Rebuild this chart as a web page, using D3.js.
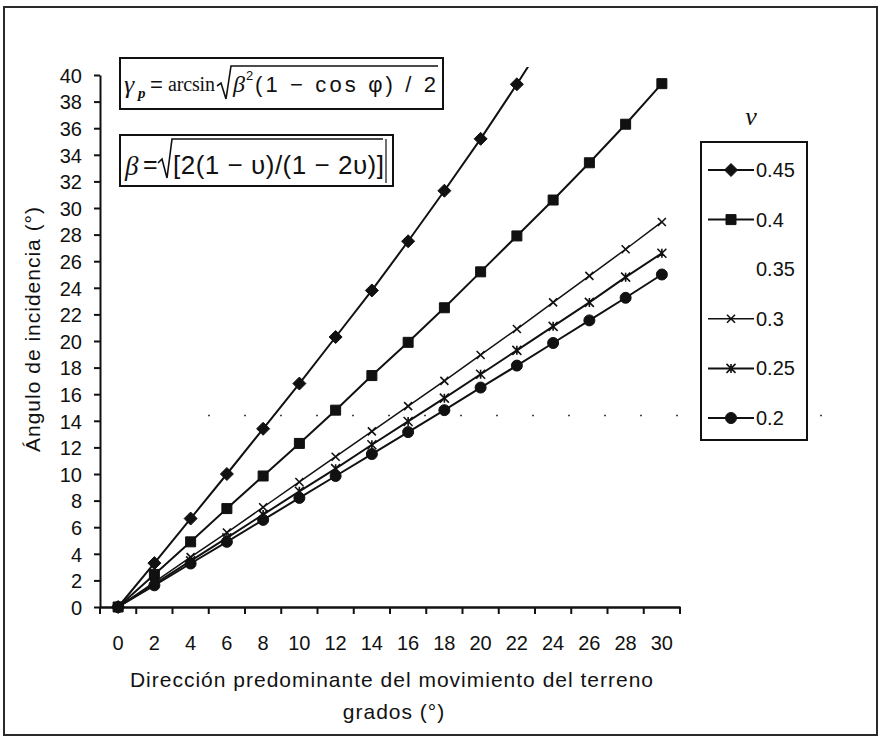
<!DOCTYPE html>
<html>
<head>
<meta charset="utf-8">
<script src="https://cdn.jsdelivr.net/npm/d3@7"></script>
<style>
  html, body { margin: 0; padding: 0; background: #fff; }
  svg text { font-family: "Liberation Sans", Arial, sans-serif; fill: #111; }
</style>
</head>
<body>
<div id="chart"></div>
<script>
// categorias del eje x (grados)
const xCategories = [0, 2, 4, 6, 8, 10, 12, 14, 16, 18, 20, 22, 24, 26, 28, 30]
const yTicks = [0, 2, 4, 6, 8, 10, 12, 14, 16, 18, 20, 22, 24, 26, 28, 30, 32, 34, 36, 38, 40]

// valores, uno por serie (nu)
const nuLabels = ['0.45', '0.4', '0.35', '0.3', '0.25', '0.2']
const nu045 = [0, 3.3, 6.65, 10.0, 13.4, 16.8, 20.3, 23.8, 27.5, 31.3, 35.2, 39.3, 43.6]
const nu040 = [0, 2.45, 4.9, 7.4, 9.85, 12.3, 14.8, 17.4, 19.9, 22.5, 25.2, 27.9, 30.6, 33.4, 36.3, 39.35]
const nu035 = [] // serie sin trazo ni marcador en el original
const nu030 = [0, 1.87, 3.75, 5.6, 7.5, 9.4, 11.3, 13.2, 15.1, 17.0, 18.95, 20.9, 22.9, 24.9, 26.9, 28.95]
const nu025 = [0, 1.73, 3.47, 5.2, 6.95, 8.7, 10.4, 12.2, 13.95, 15.7, 17.5, 19.3, 21.1, 22.9, 24.8, 26.6]
const nu020 = [0, 1.63, 3.27, 4.9, 6.55, 8.2, 9.85, 11.5, 13.15, 14.8, 16.5, 18.15, 19.85, 21.55, 23.25, 25.0]

const W = 880, H = 739
const margin = { left: 100, right: 200, top: 75, bottom: 132 }

const svg = d3.select('#chart')
  .append('svg')
  .attr('width', W)
  .attr('height', H)

// marco exterior
svg.append('rect')
  .attr('x', 4).attr('y', 7)
  .attr('width', 873).attr('height', 728)
  .attr('fill', 'none')
  .attr('stroke', '#2a2a2a')
  .attr('stroke-width', 2)

const x = d3.scaleBand()
  .domain(xCategories)
  .range([margin.left, W - margin.right])
  .paddingInner(0).paddingOuter(0)

const y = d3.scaleLinear()
  .domain([0, 40])
  .range([H - margin.bottom, margin.top])

const cx = d => x(d) + x.bandwidth() / 2

// linea punteada horizontal (ruido del escaneo)
svg.append('line')
  .attr('x1', 208).attr('x2', 852)
  .attr('y1', y(14.4)).attr('y2', y(14.4))
  .attr('stroke', '#444')
  .attr('stroke-width', 1.6)
  .attr('stroke-dasharray', '2,34')

// eje y
const yAxis = svg.append('g')
  .attr('transform', `translate(${margin.left},0)`)
  .call(d3.axisLeft(y).tickValues(yTicks).tickSize(6).tickSizeOuter(0).tickPadding(12))
yAxis.select('.domain').attr('stroke', '#111').attr('stroke-width', 2)
yAxis.selectAll('.tick line').attr('stroke', '#111').attr('stroke-width', 2)
yAxis.selectAll('.tick text')
  .style('font-size', '20px')
  .attr('dy', '0.36em')

// eje x: etiquetas centradas en cada categoria, marcas en los limites
const xAxis = svg.append('g')
  .attr('transform', `translate(0,${y(0)})`)
  .call(d3.axisBottom(x).tickSize(0).tickPadding(29))
xAxis.select('.domain').attr('stroke', '#111').attr('stroke-width', 2.5)
xAxis.selectAll('.tick text').style('font-size', '20px')

const boundaries = d3.range(xCategories.length + 1)
svg.append('g').selectAll('line')
  .data(boundaries)
  .enter()
  .append('line')
  .attr('x1', i => margin.left + i * x.step())
  .attr('x2', i => margin.left + i * x.step())
  .attr('y1', y(0))
  .attr('y2', y(0) + 7)
  .attr('stroke', '#111')
  .attr('stroke-width', 2)

// titulos de ejes
svg.append('text')
  .attr('transform', `translate(40,${(y(0) + y(40)) / 2 - 12}) rotate(-90)`)
  .attr('text-anchor', 'middle')
  .style('font-size', '21px')
  .style('letter-spacing', '1px')
  .text('Ángulo de incidencia (°)')

svg.append('text')
  .attr('x', 392).attr('y', 687)
  .attr('text-anchor', 'middle')
  .style('font-size', '21px')
  .style('letter-spacing', '1px')
  .text('Dirección predominante del movimiento del terreno')

svg.append('text')
  .attr('x', 394).attr('y', 719)
  .attr('text-anchor', 'middle')
  .style('font-size', '21px')
  .style('letter-spacing', '1px')
  .text('grados  (°)')

// marcadores estilo Excel
const markers = {
  diamond: s => `M0,${-s}L${s},0L0,${s}L${-s},0Z`,
  square: s => `M${-s},${-s}H${s}V${s}H${-s}Z`,
  cross: s => `M${-s},${-s}L${s},${s}M${-s},${s}L${s},${-s}`,
  star: s => `M${-s},${-s}L${s},${s}M${-s},${s}L${s},${-s}M0,${-s}V${s}`,
  circle: s => `M${s},0A${s},${s} 0 1,1 ${-s},0A${s},${s} 0 1,1 ${s},0Z`
}

const series = [
  { label: nuLabels[0], values: nu045, marker: 'diamond', size: 6.5, width: 2 },
  { label: nuLabels[1], values: nu040, marker: 'square', size: 5, width: 2 },
  { label: nuLabels[2], values: nu035, marker: null, size: 0, width: 0 },
  { label: nuLabels[3], values: nu030, marker: 'cross', size: 4, width: 1.5 },
  { label: nuLabels[4], values: nu025, marker: 'star', size: 4.5, width: 2 },
  { label: nuLabels[5], values: nu020, marker: 'circle', size: 5.5, width: 2 }
]

svg.append('clipPath').attr('id', 'plotclip')
  .append('rect')
  .attr('x', margin.left - 10).attr('y', margin.top - 8)
  .attr('width', W - margin.right - margin.left + 20)
  .attr('height', y(0) - margin.top + 20)

const plot = svg.append('g').attr('clip-path', 'url(#plotclip)')

const line = d3.line()
  .x((d, i) => cx(xCategories[i]))
  .y(d => y(d))

series.filter(s => s.marker).forEach(s => {
  plot.append('path')
    .datum(s.values)
    .attr('d', line)
    .attr('fill', 'none')
    .attr('stroke', '#111')
    .attr('stroke-width', s.width)

  const stroked = s.marker === 'cross' || s.marker === 'star'
  plot.selectAll(null)
    .data(s.values.filter(v => v <= 40))
    .enter()
    .append('path')
    .attr('transform', (d, i) => `translate(${cx(xCategories[i])},${y(d)})`)
    .attr('d', markers[s.marker](s.size))
    .attr('fill', stroked ? 'none' : '#111')
    .attr('stroke', '#111')
    .attr('stroke-width', stroked ? 1.6 : 1)
})

// leyenda
const legendX = 701, legendY = 142
svg.append('text')
  .attr('x', 751).attr('y', 125)
  .attr('text-anchor', 'middle')
  .style('font-family', '"Liberation Serif", "Times New Roman", serif')
  .style('font-style', 'italic')
  .style('font-size', '26px')
  .text('ν')

svg.append('rect')
  .attr('x', legendX).attr('y', legendY)
  .attr('width', 106).attr('height', 298)
  .attr('fill', '#fff')
  .attr('stroke', '#111')
  .attr('stroke-width', 2)

const rows = svg.append('g').selectAll('g')
  .data(series)
  .enter()
  .append('g')
  .attr('transform', (d, i) => `translate(0,${170 + i * 49.6})`)

rows.filter(d => d.marker).append('line')
  .attr('x1', 708).attr('x2', 754)
  .attr('stroke', '#111')
  .attr('stroke-width', d => d.width)

rows.filter(d => d.marker).append('path')
  .attr('transform', 'translate(731,0)')
  .attr('d', d => markers[d.marker](d.size))
  .attr('fill', d => (d.marker === 'cross' || d.marker === 'star') ? 'none' : '#111')
  .attr('stroke', '#111')
  .attr('stroke-width', d => (d.marker === 'cross' || d.marker === 'star') ? 1.6 : 1)

rows.append('text')
  .attr('x', 756).attr('y', 7)
  .style('font-size', '20px')
  .text(d => d.label)

// cuadros con las formulas
const f1 = svg.append('g')
f1.append('rect')
  .attr('x', 120).attr('y', 58).attr('width', 323).attr('height', 51)
  .attr('fill', '#fff').attr('stroke', '#111').attr('stroke-width', 2)
f1.append('text')
  .attr('x', 124).attr('y', 93)
  .style('font-family', '"Liberation Serif", serif')
  .style('font-style', 'italic')
  .style('font-size', '26px')
  .text('γ')
f1.append('text')
  .attr('x', 138).attr('y', 98)
  .style('font-family', '"Liberation Serif", serif')
  .style('font-style', 'italic')
  .style('font-weight', 'bold')
  .style('font-size', '15px')
  .text('p')
f1.append('text')
  .attr('x', 150).attr('y', 92)
  .style('font-size', '22px')
  .text('=')
f1.append('text')
  .attr('x', 168).attr('y', 91)
  .style('font-family', '"Liberation Serif", serif')
  .style('font-size', '20px')
  .attr('textLength', 47)
  .text('arcsin')
f1.append('path')
  .attr('d', 'M217,86 L221,83 L226,99 L231,66 L438,66')
  .attr('fill', 'none').attr('stroke', '#111').attr('stroke-width', 1.6)
f1.append('text')
  .attr('x', 233).attr('y', 92)
  .style('font-family', '"Liberation Serif", serif')
  .style('font-style', 'italic')
  .style('font-size', '24px')
  .text('β')
f1.append('text')
  .attr('x', 246).attr('y', 80)
  .style('font-size', '13px')
  .text('2')
f1.append('text')
  .attr('x', 255).attr('y', 92)
  .style('font-size', '22px')
  .attr('textLength', 181)
  .text('(1 − cos φ) / 2')

const f2 = svg.append('g')
f2.append('rect')
  .attr('x', 120).attr('y', 135).attr('width', 273).attr('height', 51)
  .attr('fill', '#fff').attr('stroke', '#111').attr('stroke-width', 2)
f2.append('text')
  .attr('x', 125).attr('y', 175)
  .style('font-family', '"Liberation Serif", serif')
  .style('font-style', 'italic')
  .style('font-size', '27px')
  .text('β')
f2.append('text')
  .attr('x', 143).attr('y', 173)
  .style('font-size', '25px')
  .text('=')
f2.append('path')
  .attr('d', 'M158,163 L162,159 L167,178 L172,139 L383,139')
  .attr('fill', 'none').attr('stroke', '#111').attr('stroke-width', 1.6)
f2.append('text')
  .attr('x', 173).attr('y', 174)
  .style('font-size', '26px')
  .attr('textLength', 211)
  .text('[2(1 − υ)/(1 − 2υ)]')
f2.append('line')
  .attr('x1', 386).attr('x2', 386).attr('y1', 139).attr('y2', 183)
  .attr('stroke', '#111').attr('stroke-width', 1.2)
</script>
</body>
</html>
